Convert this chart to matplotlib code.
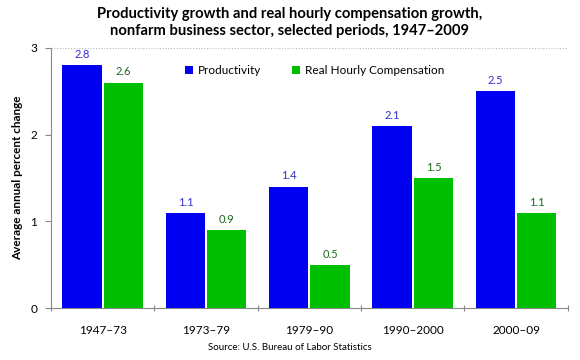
import numpy as np
import matplotlib.pyplot as plt

# Chart data
periods = ['1947\u201373', '1973\u201379', '1979\u201390', '1990\u20132000', '2000\u201309']
productivity = [2.8, 1.1, 1.4, 2.1, 2.5]
compensation = [2.6, 0.9, 0.5, 1.5, 1.1]

plt.rcParams['font.family'] = ['Lato', 'DejaVu Sans']

fig = plt.figure(figsize=(5.8, 3.6), dpi=100)
ax = fig.add_axes([0.088, 0.144, 0.891, 0.723])

x = np.arange(len(periods))
w = 0.38
ax.bar(x - 0.2, productivity, width=w, color='#0000f0', label='Productivity', zorder=3)
ax.bar(x + 0.2, compensation, width=w, color='#00bf00', label='Real Hourly Compensation', zorder=3)

for xi, v in zip(x, productivity):
    ax.text(xi - 0.2, v + 0.06, f'{v:.1f}', ha='center', va='bottom', fontsize=8, color='#3030d0')
for xi, v in zip(x, compensation):
    ax.text(xi + 0.2, v + 0.06, f'{v:.1f}', ha='center', va='bottom', fontsize=8, color='#1a6a1a')

ax.set_xlim(-0.5, len(periods) - 0.5)
ax.set_ylim(0, 3)
ax.set_yticks([0, 1, 2, 3])
ax.set_xticks(np.arange(-0.5, len(periods), 1.0))
ax.set_xticklabels([])
ax.set_xticks(x, minor=True)
ax.set_xticklabels(periods, minor=True)
ax.tick_params(axis='x', which='major', length=5, color='#888888', direction='inout')
ax.tick_params(axis='x', which='minor', length=0, pad=12, labelsize=8.5)
ax.tick_params(axis='y', length=4, color='#888888', labelsize=8.5, pad=6)

for side in ['top', 'right']:
    ax.spines[side].set_visible(False)
for side in ['left', 'bottom']:
    ax.spines[side].set_color('#888888')

ax.axhline(3, color='#bbbbbb', linestyle=(0, (1, 1.5)), linewidth=0.8, zorder=1)

ax.set_ylabel('Average annual percent change', fontsize=8.5, fontweight='bold', labelpad=5)

ax.legend(loc='upper center', bbox_to_anchor=(0.51, 0.975), ncol=2, frameon=False,
          fontsize=8.5, handlelength=0.7, handleheight=0.7, columnspacing=2.6,
          handletextpad=0.4)

fig.text(0.5, 0.98, 'Productivity growth and real hourly compensation growth,\n'
         'nonfarm business sector, selected periods, 1947\u20132009',
         ha='center', va='top', fontsize=10.6, fontweight='bold', linespacing=1.3)
fig.text(0.5, 0.022, 'Source: U.S. Bureau of Labor Statistics', ha='center', va='bottom',
         fontsize=7)

plt.savefig('out.png', dpi=100)
